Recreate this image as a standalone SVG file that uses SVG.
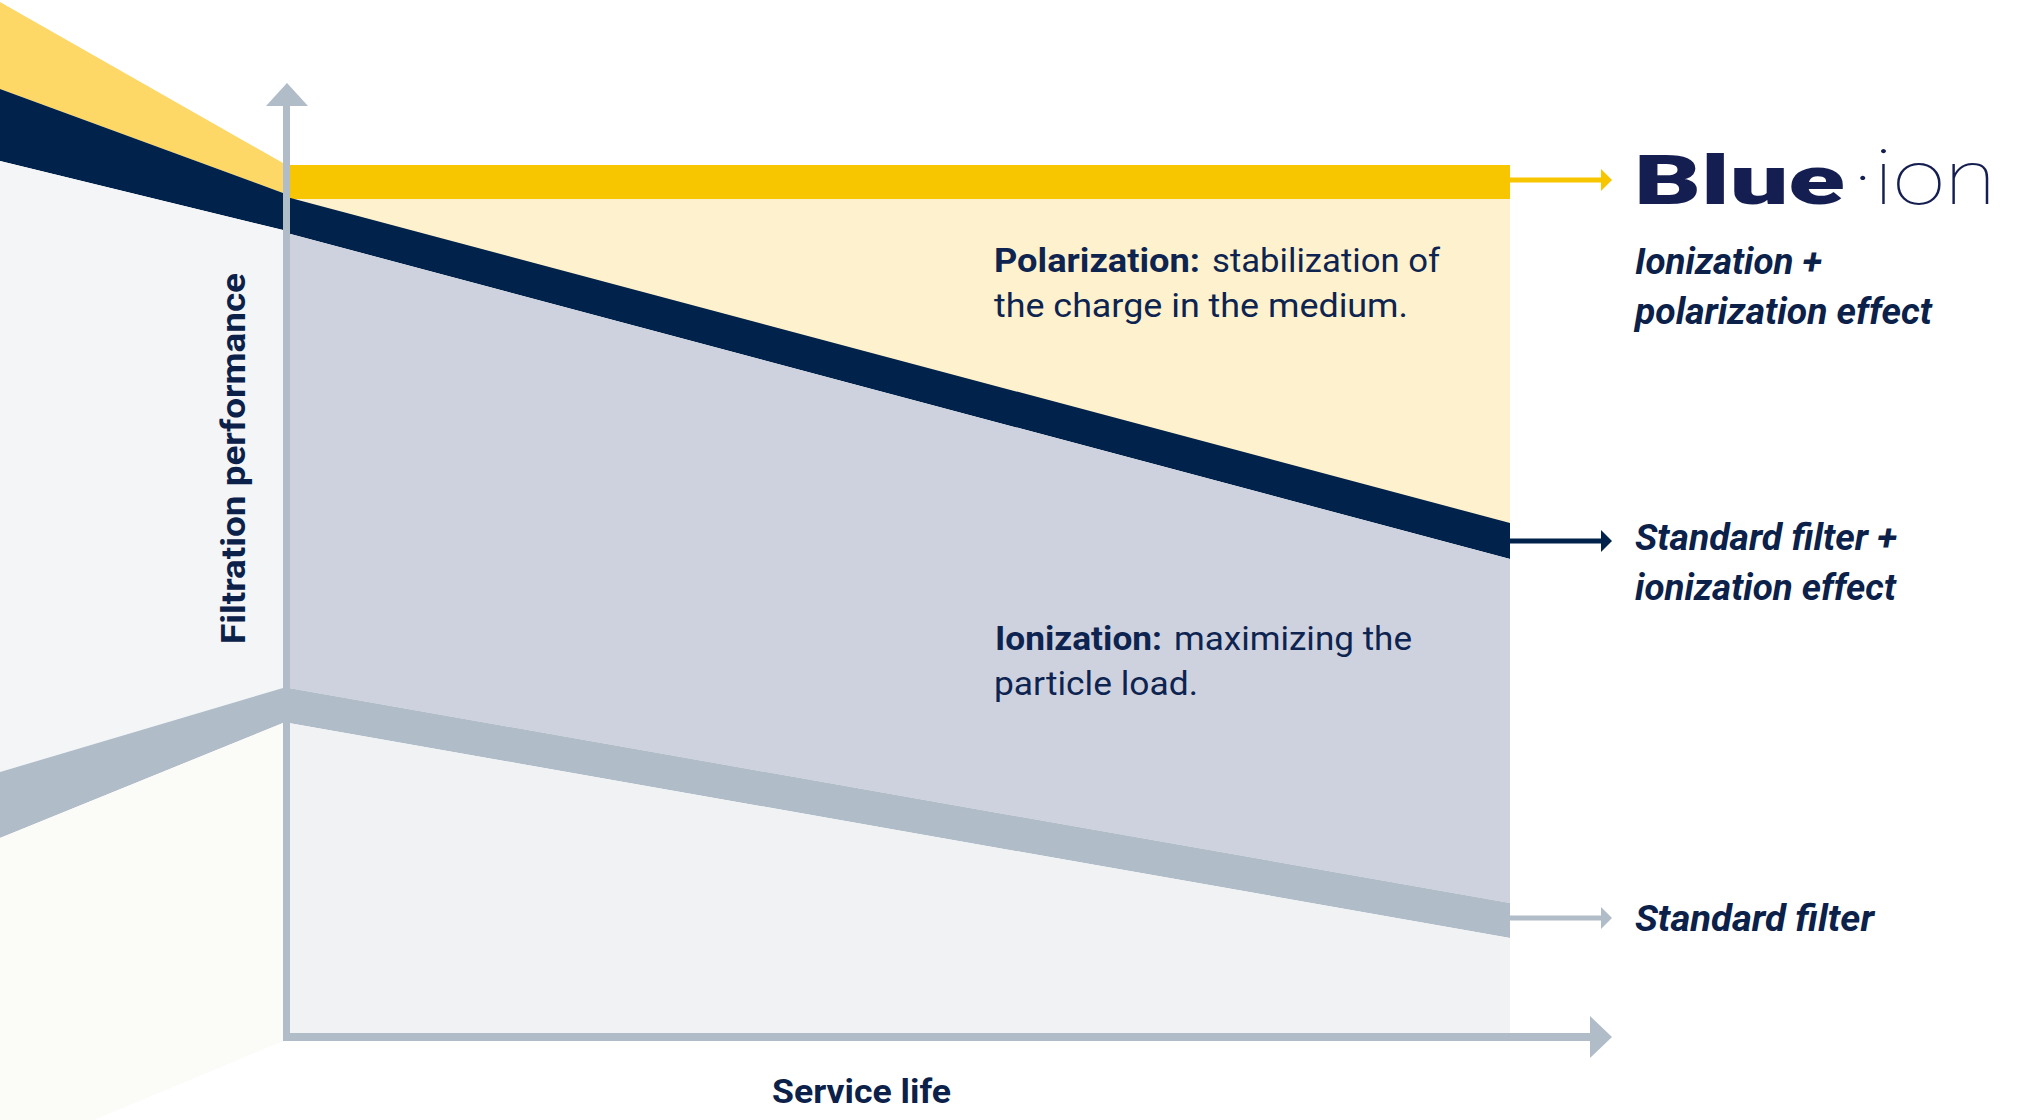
<svg xmlns="http://www.w3.org/2000/svg" width="2036" height="1120" viewBox="0 0 2036 1120">
  <style>
    .body { font-family: Roboto, "DejaVu Sans", sans-serif; font-size: 34px; fill: #0E2450; }
    .b { font-weight: 700; }
    .lbl { font-family: Roboto, "DejaVu Sans", sans-serif; font-size: 36px; font-weight: 700; font-style: italic; fill: #0B2149; }
    .ax { font-family: Roboto, "DejaVu Sans", sans-serif; font-size: 34px; font-weight: 700; fill: #0B2149; }
    .conn { stroke-width: 5; fill: none; }
  </style>
  <defs>
    <marker id="ah-yellow" markerUnits="userSpaceOnUse" markerWidth="12" markerHeight="22" refX="2" refY="11" orient="auto">
      <path d="M0,0 L11,11 L0,22 Z" fill="#F7C600"/>
    </marker>
    <marker id="ah-navy" markerUnits="userSpaceOnUse" markerWidth="12" markerHeight="22" refX="2" refY="11" orient="auto">
      <path d="M0,0 L11,11 L0,22 Z" fill="#01224B"/>
    </marker>
    <marker id="ah-grey" markerUnits="userSpaceOnUse" markerWidth="12" markerHeight="22" refX="2" refY="11" orient="auto">
      <path d="M0,0 L11,11 L0,22 Z" fill="#B0BCC8"/>
    </marker>
  </defs>

  <rect width="2036" height="1120" fill="#FFFFFF"/>

  <g id="left-perspective">
    <polygon points="0,2 283,163 283,193 0,89" fill="#FDD867"/>
    <polygon points="0,89 283,193 283,230 0,161" fill="#01224B"/>
    <polygon points="0,161 283,230 283,688 0,772" fill="#F4F5F7"/>
    <polygon points="0,772 283,688 283,723 0,838" fill="#B0BCC8"/>
    <polygon points="0,838 283,723 283,1041 94,1120 0,1120" fill="#FBFBF8"/>
  </g>

  <g id="chart-areas">
    <rect x="283" y="165" width="1227" height="34" fill="#F7C600"/>
    <polygon points="283,199 1510,199 1510,524 283,197" fill="#FEF2CE"/>
    <polygon points="283,196 1510,523 1510,559 283,232" fill="#01224B"/>
    <polygon points="283,232 1510,559 1510,903 283,687" fill="#CED2DE"/>
    <polygon points="283,687 1510,903 1510,938 283,722" fill="#B0BCC8"/>
    <polygon points="283,722 1510,938 1510,1037 283,1037" fill="#F0F2F4"/>
  </g>

  <g id="axes" fill="#B0BCC8">
    <rect x="283" y="104" width="7" height="937"/>
    <polygon points="266,106 287,83 308,106"/>
    <rect x="283" y="1033" width="1309" height="8"/>
    <polygon points="1590,1016 1612,1037 1590,1058"/>
  </g>

  <g id="connectors">
    <line class="conn" x1="1510" y1="180" x2="1603" y2="180" stroke="#F7C600" marker-end="url(#ah-yellow)"/>
    <line class="conn" x1="1510" y1="541" x2="1603" y2="541" stroke="#01224B" marker-end="url(#ah-navy)"/>
    <line class="conn" x1="1510" y1="918" x2="1603" y2="918" stroke="#B0BCC8" marker-end="url(#ah-grey)"/>
  </g>

  <g id="text-polarization">
    <text class="body b" x="994" y="272" textLength="206" lengthAdjust="spacingAndGlyphs">Polarization:</text>
    <text class="body" x="1212" y="272" textLength="228" lengthAdjust="spacingAndGlyphs">stabilization of</text>
    <text class="body" x="994" y="317" textLength="414" lengthAdjust="spacingAndGlyphs">the charge in the medium.</text>
  </g>

  <g id="text-ionization">
    <text class="body b" x="995" y="650" textLength="167" lengthAdjust="spacingAndGlyphs">Ionization:</text>
    <text class="body" x="1174" y="650" textLength="238" lengthAdjust="spacingAndGlyphs">maximizing the</text>
    <text class="body" x="994" y="695" textLength="204" lengthAdjust="spacingAndGlyphs">particle load.</text>
  </g>

  <g id="label-blueion">
    <text x="1634" y="204" font-family="Roboto, 'DejaVu Sans', sans-serif" font-size="69" font-weight="900" fill="#141E50" textLength="211" lengthAdjust="spacingAndGlyphs">Blue</text>
    <text x="1852" y="204" font-family="Roboto, 'DejaVu Sans', sans-serif" font-size="76" font-weight="100" fill="#141E50" textLength="144" lengthAdjust="spacingAndGlyphs">·ion</text>
    <text class="lbl" x="1635" y="274" textLength="187" lengthAdjust="spacingAndGlyphs">Ionization +</text>
    <text class="lbl" x="1635" y="324" textLength="297" lengthAdjust="spacingAndGlyphs">polarization effect</text>
  </g>

  <g id="label-standard-ionization">
    <text class="lbl" x="1635" y="550" textLength="262" lengthAdjust="spacingAndGlyphs">Standard filter +</text>
    <text class="lbl" x="1635" y="600" textLength="261" lengthAdjust="spacingAndGlyphs">ionization effect</text>
  </g>

  <g id="label-standard">
    <text class="lbl" x="1635" y="931" textLength="239" lengthAdjust="spacingAndGlyphs">Standard filter</text>
  </g>

  <g id="axis-y-label">
    <text class="ax" x="245" y="644" transform="rotate(-90 245 644)" textLength="371" lengthAdjust="spacingAndGlyphs">Filtration performance</text>
  </g>

  <g id="axis-x-label">
    <text class="ax" x="772" y="1103" textLength="179" lengthAdjust="spacingAndGlyphs">Service life</text>
  </g>
</svg>
